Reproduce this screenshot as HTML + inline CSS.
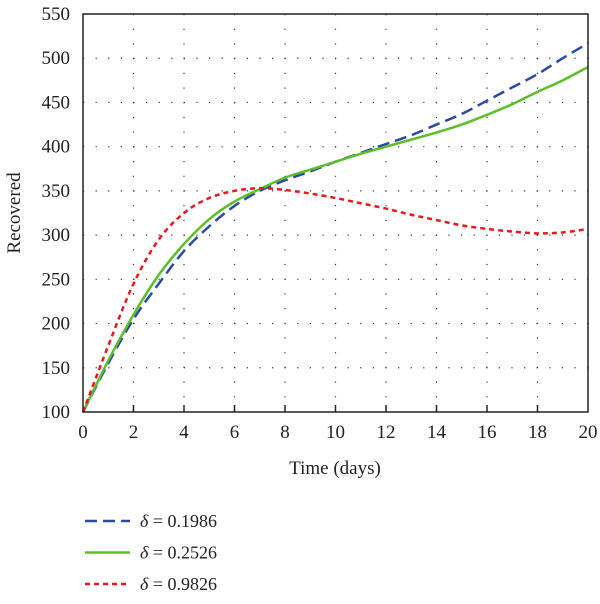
<!DOCTYPE html>
<html><head><meta charset="utf-8"><style>
body{margin:0;background:#fff;width:600px;height:599px;overflow:hidden}
svg text{font-family:"Liberation Serif",serif;fill:#222}
</style></head><body>
<svg id="chart" width="600" height="599" xmlns="http://www.w3.org/2000/svg">
<g id="grid"></g>
<g id="series"></g>
<rect x="83" y="14" width="505" height="398" fill="none" stroke="#222" stroke-width="1.5"/>
<g id="axes"></g>
<text x="335" y="474" font-size="19" text-anchor="middle">Time (days)</text>
<text transform="translate(20,213) rotate(-90)" font-size="19" text-anchor="middle">Recovered</text>
<g id="legend"></g>
</svg>
<script>
const xTicks=[0,2,4,6,8,10,12,14,16,18,20];
const yTicks=[100,150,200,250,300,350,400,450,500,550];
const days=[0,1,2,3,4,5,6,7,8,9,10,11,12,13,14,15,16,17,18,19,20];
const blue=[100,155,205,245,282,310,333,350,362,372,383,393,403,413,425,437,452,467,482,500,517];
const green=[100,158,210,255,290,318,338,352,365,374,383,392,400,408,416,425,436,448,462,475,490];
const red=[100,175,245,295,325,342,350,353,351,347,342,336,330,323,317,311,307,304,302,303,307];
const labels=["0.1986","0.2526","0.9826"];
const NS="http://www.w3.org/2000/svg";
const X=v=>83+v/20*505, Y=v=>412-(v-100)/450*398;
function mk(tag,attrs,parent){const e=document.createElementNS(NS,tag);for(const k in attrs)e.setAttribute(k,attrs[k]);parent.appendChild(e);return e;}
const grid=document.getElementById('grid'),axes=document.getElementById('axes'),ser=document.getElementById('series'),leg=document.getElementById('legend');
xTicks.forEach(t=>{
 if(t>0&&t<20){const l=mk('line',{x1:X(t),x2:X(t),y1:14,y2:412,stroke:'#333','stroke-width':1.2,'stroke-dasharray':'1.2 13.5'},grid);
 
 
 const k=mk('line',{x1:X(t),x2:X(t),y1:412,y2:405,stroke:'#222','stroke-width':1.5},axes);
 
 }
 const tx=mk('text',{x:X(t),y:438,'font-size':19,'text-anchor':'middle'},axes);tx.textContent=t;
 
 
});
yTicks.forEach(t=>{
 if(t>100&&t<550){const l=mk('line',{x1:83,x2:588,y1:Y(t),y2:Y(t),stroke:'#333','stroke-width':1.2,'stroke-dasharray':'1.2 11.4'},grid);
 
 }
 const tx=mk('text',{x:70,y:Y(t)+6,'font-size':19,'text-anchor':'end'},axes);tx.textContent=t;
 
 
});
const styles=[{d:blue,c:'#2b4aa8',dash:'12 6',name:'series-delta-0-1986'},{d:green,c:'#5cbf2a',dash:'',name:'series-delta-0-2526'},{d:red,c:'#e8181e',dash:'5 4',name:'series-delta-0-9826'}];
function smooth(pts){let s=`M${pts[0][0]},${pts[0][1]}`;for(let i=0;i<pts.length-1;i++){const p0=pts[i-1]||pts[i],p1=pts[i],p2=pts[i+1],p3=pts[i+2]||p2;s+=` C${p1[0]+(p2[0]-p0[0])/6},${p1[1]+(p2[1]-p0[1])/6} ${p2[0]-(p3[0]-p1[0])/6},${p2[1]-(p3[1]-p1[1])/6} ${p2[0]},${p2[1]}`;}return s;}
styles.forEach((s,i)=>{
 const p=mk('path',{d:smooth(days.map((d,j)=>[X(d),Y(s.d[j])])),fill:'none',stroke:s.c,'stroke-width':2.5,'stroke-dasharray':s.dash},ser);
 
 
 const y=521+i*31.5;
 const ll=mk('line',{x1:85,x2:130,y1:y,y2:y,stroke:s.c,'stroke-width':2.5,'stroke-dasharray':s.dash},leg);
 
 
 const t=mk('text',{x:140,y:y+6,'font-size':18},leg);
 t.innerHTML='<tspan font-style="italic">δ</tspan> = '+labels[i];
 
 
});
</script>
</body></html>
